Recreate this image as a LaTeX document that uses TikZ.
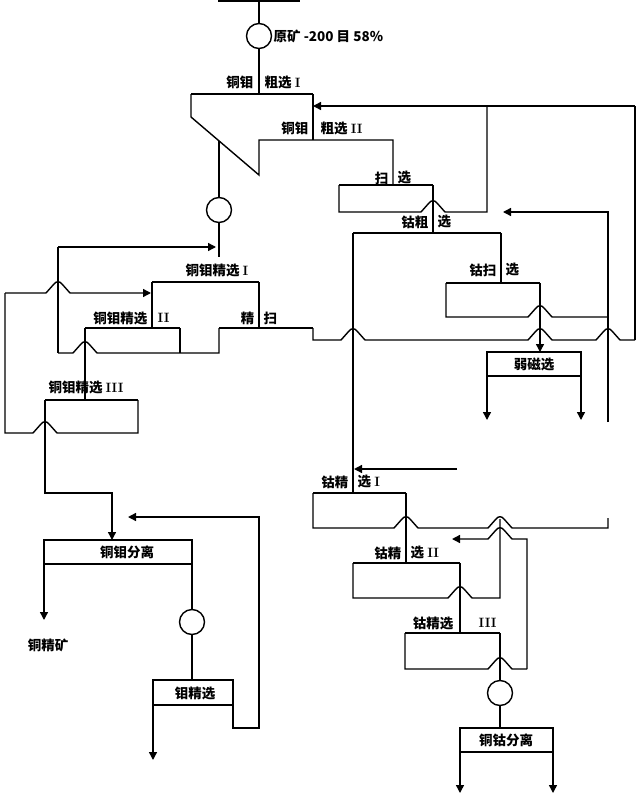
\documentclass[tikz,border=0pt]{standalone}
\usepackage{fontspec}
\newfontfamily\cjk{Noto Sans CJK SC}
\newcommand\rnum[1]{{\rmfamily\bfseries #1}}
\usetikzlibrary{arrows.meta}
\begin{document}
\begin{tikzpicture}[x=1pt,y=-1pt,
  line width=1.4pt, line join=miter,
  top/.style={line width=2.6pt},
  arr/.style={-{Triangle[length=8pt,width=8pt]}},
  arrs/.style={{Triangle[length=8pt,width=8pt]}-},
  lbl/.style={font=\cjk\bfseries\fontsize{13.5}{14}\selectfont, inner sep=0pt},
  cell/.style={circle, draw, minimum size=25pt, inner sep=0pt},
  hmp/.style 2 args={insert path={-- ({#1-12},#2) -- ({#1-4},{#2-9}) .. controls ({#1-2},{#2-12}) and ({#1+2},{#2-12}) .. ({#1+4},{#2-9}) -- ({#1+12},#2)}},
]
\useasboundingbox (0,0) rectangle (640,798);
% feed
\draw[top] (218,1) -- (300,1);
\node[cell] (c0) at (259,36) {};
\draw (259,1) -- (c0.north);
\draw (c0.south) -- (259,94);
\node[lbl,anchor=west] (feed) at (273,36) {原矿 -200 目 58\%};
% rougher
\draw[top] (191,94) -- (313,94);
\draw (191,94) -- (191,117) -- (259,175) -- (259,140) -- (393,140) -- (393,185);
\draw (313,94) -- (313,140);
\node[lbl,anchor=east] (r1a) at (254,82) {铜钼};
\node[lbl,anchor=west] (r1b) at (264,82) {粗选 \rnum{I}};
\node[lbl,anchor=east] (r2a) at (309,128) {铜钼};
\node[lbl,anchor=west] (r2b) at (320,128) {粗选 \rnum{II}};
\draw[arr] (635,106) -- (313,106);
\draw (635,106) -- (635,340);
% scavenger
\draw[top] (339,185) -- (433,185);
\draw (339,185) -- (339,212) [hmp={433}{212}] -- (487,212) -- (487,106);
\draw (433,185) -- (433,233);
\node[lbl,anchor=east] (sca) at (389,178) {扫};
\node[lbl,anchor=west] (scb) at (397,178) {选};
% regrind
\node[cell] (c1) at (219,210) {};
\draw (219,141) -- (c1.north);
\draw (c1.south) -- (219,257);
% cleaner I
\draw[arr] (58,247) -- (216,247);
\draw (58,247) -- (58,353);
\draw[arr] (5,293) [hmp={58}{293}] -- (151,293);
\draw (5,293) -- (5,433) [hmp={45}{433}] -- (138,433) -- (138,400);
\draw[top] (152,282) -- (259,282);
\draw (152,282) -- (152,328);
\draw (259,282) -- (259,328);
\node[lbl] (k1) at (217,270) {铜钼精选 \rnum{I}};
% cleaner II
\draw[top] (85,328) -- (180,328);
\draw (180,328) -- (180,353);
\draw (58,353) [hmp={85}{353}] -- (219,353) -- (219,328);
\draw[top] (219,328) -- (313,328);
\draw (313,328) -- (313,340) [hmp={353}{340}] [hmp={540}{340}] [hmp={608}{340}] -- (635,340);
\node[lbl,anchor=east] (k2a) at (148,318) {铜钼精选};
\node[lbl,anchor=west] (k2b) at (157,318) {\rnum{II}};
\node[lbl,anchor=east] (jsa) at (255,318) {精};
\node[lbl,anchor=west] (jsb) at (263,318) {扫};
% cleaner III
\draw (85,328) -- (85,400);
\draw[top] (45,400) -- (138,400);
\draw[arr] (45,400) -- (45,493) -- (112,493) -- (112,540);
\node[lbl] (k3) at (86,387) {铜钼精选 \rnum{III}};
% Cu-Mo separation
\draw (44,540) rectangle (192,564);
\node[lbl] (sep) at (127,552) {铜钼分离};
\draw[arr] (44,564) -- (44,620);
\node[lbl] (cu) at (48,645) {铜精矿};
\node[cell] (c3) at (192,622) {};
\draw (192,564) -- (c3.north);
\draw (c3.south) -- (192,680);
\draw (153,680) rectangle (233,705);
\node[lbl] (mo) at (195,693) {钼精选};
\draw[arr] (233,705) -- (233,728) -- (259,728) -- (259,517) -- (128,517);
\draw[arr] (153,705) -- (153,760);
% cobalt rougher
\draw[top] (353,233) -- (501,233);
\draw (501,233) -- (501,283);
\draw (353,233) -- (353,493);
\node[lbl,anchor=east] (cra) at (429,222) {钴粗};
\node[lbl,anchor=west] (crb) at (437,222) {选};
% cobalt scavenger
\draw[top] (446,283) -- (540,283);
\draw (446,283) -- (446,317) [hmp={540}{317}] -- (608,317);
\draw[arr] (540,283) -- (540,352);
\node[lbl,anchor=east] (csa) at (497,270) {钴扫};
\node[lbl,anchor=west] (csb) at (505,270) {选};
\draw[arr] (608,422) -- (608,212) -- (503,212);
% magnetic
\draw (487,352) rectangle (581,376);
\node[lbl] (mag) at (534,364) {弱磁选};
\draw[arr] (487,376) -- (487,420);
\draw[arr] (581,376) -- (581,420);
% cobalt cleaner I
\draw[arr] (457,469) -- (354,469);
\draw[top] (313,493) -- (406,493);
\draw (313,493) -- (313,528) [hmp={406}{528}] [hmp={500}{528}] -- (608,528) -- (608,518);
\draw (406,493) -- (406,563);
\node[lbl,anchor=east] (ck1a) at (349,482) {钴精};
\node[lbl,anchor=west] (ck1b) at (357,482) {选 \rnum{I}};
% cobalt cleaner II
\draw[top] (353,563) -- (460,563);
\draw (353,563) -- (353,598) [hmp={460}{598}] -- (500,598) -- (500,519);
\draw[arrs] (452,539) [hmp={500}{539}] -- (527,539) -- (527,669);
\node[lbl,anchor=east] (ck2a) at (402,553) {钴精};
\node[lbl,anchor=west] (ck2b) at (410,553) {选 \rnum{II}};
\draw (460,563) -- (460,633);
% cobalt cleaner III
\draw[top] (405,633) -- (500,633);
\draw (405,633) -- (405,669) [hmp={500}{669}] -- (527,669);
\node[lbl,anchor=east] (ck3a) at (454,623) {钴精选};
\node[lbl,anchor=west] (ck3b) at (478,623) {\rnum{III}};
\node[cell] (c4) at (500,693) {};
\draw (500,633) -- (c4.north);
\draw (c4.south) -- (500,728);
\draw (460,728) rectangle (553,752);
\node[lbl] (cuco) at (506,740) {铜钴分离};
\draw[arr] (460,752) -- (460,793);
\draw[arr] (553,752) -- (553,793);
\end{tikzpicture}
\end{document}
